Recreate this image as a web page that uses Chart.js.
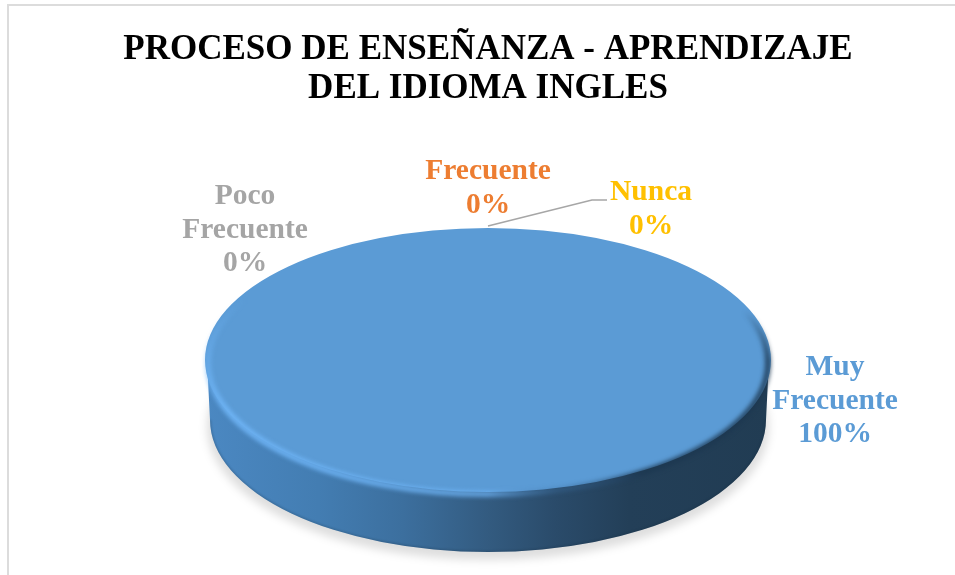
<!DOCTYPE html>
<html>
<head>
<meta charset="utf-8">
<script src="https://cdn.jsdelivr.net/npm/chart.js@4"></script>
<style>
  html, body { margin: 0; padding: 0; background: #fff; overflow: hidden; }
  #myChart { position: absolute; left: 0; top: 0; }
  #frame { position: absolute; left: 7px; top: 4px; width: 960px; height: 600px; border: 2px solid #dcdcdc; }
</style>
</head>
<body>
<div id="frame"></div>
<canvas id="myChart" width="955" height="575"></canvas>
<script>
var titleLines = ['PROCESO DE ENSEÑANZA - APRENDIZAJE', 'DEL IDIOMA INGLES'];
var categories = ['Muy Frecuente', 'Frecuente', 'Poco Frecuente', 'Nunca'];
var values = [100, 0, 0, 0];
var colors = ['#5B9BD5', '#ED7D31', '#A5A5A5', '#FFC000'];

// where the label text sits (centre x, first baseline y), same order as categories
var labelSpots = [[835, 375], [488, 179], [245, 204], [651, 200]];
var labelFont = 'bold 29.5px "Liberation Serif"';
var lineGap = 33.7;

var radius = 283;
var squash = 132 / 283;   // tilt of the pie
var depth = 60;

function pieGeom(chart) {
  var arc = chart.getDatasetMeta(0).data[0];
  return { x: arc.x, y: arc.y, rx: arc.outerRadius, ry: arc.outerRadius * squash };
}

var pie3d = {
  id: 'pie3d',
  beforeDatasetsDraw: function (chart) {
    var ctx = chart.ctx, p = pieGeom(chart);
    var sideRx = p.rx - 5, sideY = p.y + depth;

    // soft shadow under the disc
    ctx.save();
    ctx.filter = 'blur(4px)';
    ctx.fillStyle = 'rgba(0,0,0,0.13)';
    ctx.beginPath();
    ctx.ellipse(p.x, sideY + 7, sideRx + 3, p.ry + 1, 0, 0, Math.PI * 2);
    ctx.fill();
    ctx.restore();

    // side wall
    var grad = ctx.createLinearGradient(p.x - p.rx, 0, p.x + p.rx, 0);
    grad.addColorStop(0, '#4B88C2');
    grad.addColorStop(0.2, '#437DB2');
    grad.addColorStop(0.35, '#3C6F9E');
    grad.addColorStop(0.5, '#335B80');
    grad.addColorStop(0.62, '#2A4B6A');
    grad.addColorStop(0.75, '#233F58');
    grad.addColorStop(1, '#213C53');
    ctx.save();
    ctx.fillStyle = grad;
    ctx.beginPath();
    ctx.moveTo(p.x - p.rx + 2, p.y);
    ctx.lineTo(p.x - sideRx, sideY);
    ctx.ellipse(p.x, sideY, sideRx, p.ry, 0, Math.PI, 0, true);
    ctx.lineTo(p.x + p.rx - 2, p.y);
    ctx.closePath();
    ctx.fill();
    // darker bottom edge of the wall
    ctx.clip();
    ctx.filter = 'blur(1px)';
    ctx.strokeStyle = 'rgba(18,38,58,0.28)';
    ctx.lineWidth = 2;
    ctx.beginPath();
    ctx.ellipse(p.x, sideY, sideRx, p.ry, 0, Math.PI, 0, true);
    ctx.stroke();
    ctx.restore();

    // squash the library's own pie into an ellipse
    ctx.save();
    ctx.translate(0, p.y);
    ctx.scale(1, squash);
    ctx.translate(0, -p.y);
  },
  afterDatasetsDraw: function (chart) {
    var ctx = chart.ctx;
    ctx.restore();
    var p = pieGeom(chart);

    // bevel round the rim, sits slightly low so the front looks fuller
    var rim = ctx.createConicGradient(0, p.x, p.y);
    rim.addColorStop(0, 'rgba(28,55,80,0.8)');
    rim.addColorStop(0.1, 'rgba(28,55,80,0.8)');
    rim.addColorStop(0.17, 'rgba(60,110,160,0.35)');
    rim.addColorStop(0.25, 'rgba(112,182,248,0.75)');
    rim.addColorStop(0.47, 'rgba(112,182,248,0.9)');
    rim.addColorStop(0.54, 'rgba(112,182,248,0)');
    rim.addColorStop(0.97, 'rgba(28,55,80,0)');
    rim.addColorStop(1, 'rgba(28,55,80,0.8)');
    ctx.save();
    ctx.filter = 'blur(2px)';
    ctx.strokeStyle = rim;
    ctx.lineWidth = 6;
    ctx.beginPath();
    ctx.ellipse(p.x, p.y + 3, p.rx - 3, p.ry - 1, 0, 0, Math.PI * 2);
    ctx.stroke();
    ctx.restore();
  },
  afterDraw: function (chart) {
    var ctx = chart.ctx, p = pieGeom(chart);
    var total = values.reduce(function (a, b) { return a + b; }, 0);

    // leader line of the empty slices
    ctx.save();
    ctx.strokeStyle = '#A6A6A6';
    ctx.lineWidth = 1.5;
    ctx.beginPath();
    ctx.moveTo(p.x, p.y - p.ry - 2);
    ctx.lineTo(592, 200);
    ctx.lineTo(607, 200);
    ctx.stroke();

    ctx.font = labelFont;
    ctx.textAlign = 'center';
    ctx.textBaseline = 'alphabetic';
    categories.forEach(function (name, i) {
      var lines = name.split(' ').concat(Math.round(values[i] / total * 100) + '%');
      ctx.fillStyle = colors[i];
      lines.forEach(function (line, n) {
        ctx.fillText(line, labelSpots[i][0], labelSpots[i][1] + n * lineGap);
      });
    });
    ctx.restore();
  }
};

var myChart = new Chart(document.getElementById('myChart'), {
  type: 'pie',
  data: {
    labels: categories,
    datasets: [{
      data: values,
      backgroundColor: colors,
      borderWidth: 0,
      radius: radius,
      clip: false
    }]
  },
  options: {
    responsive: false,
    animation: false,
    layout: { padding: { left: 21 } },
    plugins: {
      legend: { display: false },
      tooltip: { enabled: false },
      title: {
        display: true,
        text: titleLines,
        color: '#000',
        font: { family: '"Liberation Serif"', size: 35, weight: 'bold', lineHeight: 1.13 },
        padding: { top: 30, bottom: 36 }
      }
    }
  },
  plugins: [pie3d]
});
</script>
</body>
</html>
